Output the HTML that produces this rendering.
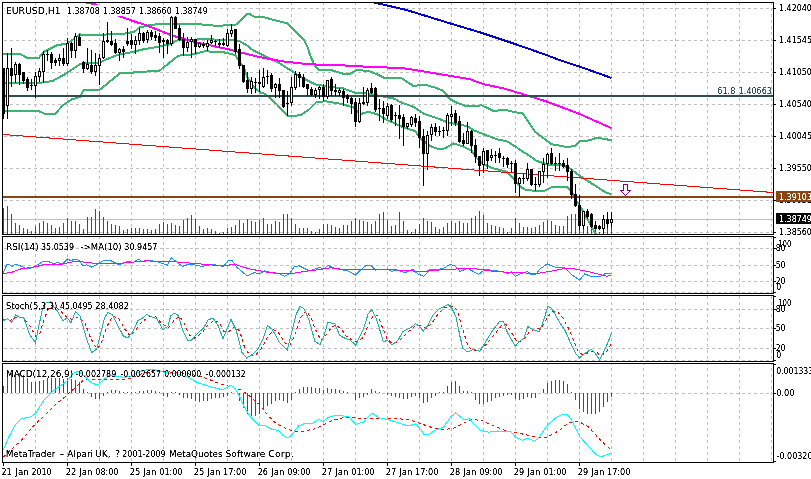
<!DOCTYPE html><html><head><meta charset="utf-8"><title>EURUSD,H1</title><style>html,body{margin:0;padding:0;background:#fff;overflow:hidden}svg{display:block}text{white-space:pre}</style></head><body><svg width="811" height="479" viewBox="0 0 811 479" shape-rendering="crispEdges" font-family="DejaVu Sans Condensed, Liberation Sans, sans-serif" font-size="9.5">
<rect x="0" y="0" width="811" height="479" fill="#fff"/>
<defs>
<clipPath id="cm"><rect x="3" y="3" width="770" height="231"/></clipPath>
<clipPath id="cr"><rect x="3" y="237" width="770" height="56"/></clipPath>
<clipPath id="cs"><rect x="3" y="296" width="770" height="65"/></clipPath>
<clipPath id="cd"><rect x="3" y="364" width="770" height="98"/></clipPath>
<filter id="tx" x="0" y="0" width="811" height="479" filterUnits="userSpaceOnUse" color-interpolation-filters="sRGB"><feComponentTransfer><feFuncA type="table" tableValues="0 0 0.75 1 1"/></feComponentTransfer></filter>
</defs>
<g clip-path="url(#cm)">
<line x1="4" y1="8.5" x2="773" y2="8.5" stroke="#c0c0c0" stroke-width="1" stroke-dasharray="3,3"/>
<line x1="4" y1="40.5" x2="773" y2="40.5" stroke="#c0c0c0" stroke-width="1" stroke-dasharray="3,3"/>
<line x1="4" y1="72.5" x2="773" y2="72.5" stroke="#c0c0c0" stroke-width="1" stroke-dasharray="3,3"/>
<line x1="4" y1="104.5" x2="773" y2="104.5" stroke="#c0c0c0" stroke-width="1" stroke-dasharray="3,3"/>
<line x1="4" y1="136.5" x2="773" y2="136.5" stroke="#c0c0c0" stroke-width="1" stroke-dasharray="3,3"/>
<line x1="4" y1="168.5" x2="773" y2="168.5" stroke="#c0c0c0" stroke-width="1" stroke-dasharray="3,3"/>
<line x1="4" y1="200.5" x2="773" y2="200.5" stroke="#c0c0c0" stroke-width="1" stroke-dasharray="3,3"/>
<line x1="4" y1="232.5" x2="773" y2="232.5" stroke="#c0c0c0" stroke-width="1" stroke-dasharray="3,3"/>
<line x1="35.5" y1="2" x2="35.5" y2="234" stroke="#c0c0c0" stroke-width="1" stroke-dasharray="3,3"/>
<line x1="67.5" y1="2" x2="67.5" y2="234" stroke="#c0c0c0" stroke-width="1" stroke-dasharray="3,3"/>
<line x1="99.5" y1="2" x2="99.5" y2="234" stroke="#c0c0c0" stroke-width="1" stroke-dasharray="3,3"/>
<line x1="131.5" y1="2" x2="131.5" y2="234" stroke="#c0c0c0" stroke-width="1" stroke-dasharray="3,3"/>
<line x1="163.5" y1="2" x2="163.5" y2="234" stroke="#c0c0c0" stroke-width="1" stroke-dasharray="3,3"/>
<line x1="195.5" y1="2" x2="195.5" y2="234" stroke="#c0c0c0" stroke-width="1" stroke-dasharray="3,3"/>
<line x1="227.5" y1="2" x2="227.5" y2="234" stroke="#c0c0c0" stroke-width="1" stroke-dasharray="3,3"/>
<line x1="259.5" y1="2" x2="259.5" y2="234" stroke="#c0c0c0" stroke-width="1" stroke-dasharray="3,3"/>
<line x1="291.5" y1="2" x2="291.5" y2="234" stroke="#c0c0c0" stroke-width="1" stroke-dasharray="3,3"/>
<line x1="323.5" y1="2" x2="323.5" y2="234" stroke="#c0c0c0" stroke-width="1" stroke-dasharray="3,3"/>
<line x1="355.5" y1="2" x2="355.5" y2="234" stroke="#c0c0c0" stroke-width="1" stroke-dasharray="3,3"/>
<line x1="387.5" y1="2" x2="387.5" y2="234" stroke="#c0c0c0" stroke-width="1" stroke-dasharray="3,3"/>
<line x1="419.5" y1="2" x2="419.5" y2="234" stroke="#c0c0c0" stroke-width="1" stroke-dasharray="3,3"/>
<line x1="451.5" y1="2" x2="451.5" y2="234" stroke="#c0c0c0" stroke-width="1" stroke-dasharray="3,3"/>
<line x1="483.5" y1="2" x2="483.5" y2="234" stroke="#c0c0c0" stroke-width="1" stroke-dasharray="3,3"/>
<line x1="515.5" y1="2" x2="515.5" y2="234" stroke="#c0c0c0" stroke-width="1" stroke-dasharray="3,3"/>
<line x1="547.5" y1="2" x2="547.5" y2="234" stroke="#c0c0c0" stroke-width="1" stroke-dasharray="3,3"/>
<line x1="579.5" y1="2" x2="579.5" y2="234" stroke="#c0c0c0" stroke-width="1" stroke-dasharray="3,3"/>
<line x1="611.5" y1="2" x2="611.5" y2="234" stroke="#c0c0c0" stroke-width="1" stroke-dasharray="3,3"/>
<line x1="643.5" y1="2" x2="643.5" y2="234" stroke="#c0c0c0" stroke-width="1" stroke-dasharray="3,3"/>
<line x1="675.5" y1="2" x2="675.5" y2="234" stroke="#c0c0c0" stroke-width="1" stroke-dasharray="3,3"/>
<line x1="707.5" y1="2" x2="707.5" y2="234" stroke="#c0c0c0" stroke-width="1" stroke-dasharray="3,3"/>
<line x1="739.5" y1="2" x2="739.5" y2="234" stroke="#c0c0c0" stroke-width="1" stroke-dasharray="3,3"/>
<line x1="771.5" y1="2" x2="771.5" y2="234" stroke="#c0c0c0" stroke-width="1" stroke-dasharray="3,3"/>
<rect x="3" y="219" width="770" height="1" fill="#c0c0c0"/>
<rect x="3" y="208" width="1" height="26" fill="#008000"/>
<rect x="7" y="206" width="1" height="28" fill="#008000"/>
<rect x="11" y="214" width="1" height="20" fill="#008000"/>
<rect x="15" y="223" width="1" height="11" fill="#008000"/>
<rect x="19" y="225" width="1" height="9" fill="#008000"/>
<rect x="23" y="228" width="1" height="6" fill="#008000"/>
<rect x="27" y="229" width="1" height="5" fill="#008000"/>
<rect x="31" y="231" width="1" height="3" fill="#008000"/>
<rect x="35" y="226" width="1" height="8" fill="#008000"/>
<rect x="39" y="223" width="1" height="11" fill="#008000"/>
<rect x="43" y="221" width="1" height="13" fill="#008000"/>
<rect x="47" y="223" width="1" height="11" fill="#008000"/>
<rect x="51" y="225" width="1" height="9" fill="#008000"/>
<rect x="55" y="228" width="1" height="6" fill="#008000"/>
<rect x="59" y="227" width="1" height="7" fill="#008000"/>
<rect x="63" y="223" width="1" height="11" fill="#008000"/>
<rect x="67" y="218" width="1" height="16" fill="#008000"/>
<rect x="71" y="221" width="1" height="13" fill="#008000"/>
<rect x="75" y="221" width="1" height="13" fill="#008000"/>
<rect x="79" y="224" width="1" height="10" fill="#008000"/>
<rect x="83" y="229" width="1" height="5" fill="#008000"/>
<rect x="87" y="217" width="1" height="17" fill="#008000"/>
<rect x="91" y="217" width="1" height="17" fill="#008000"/>
<rect x="95" y="209" width="1" height="25" fill="#008000"/>
<rect x="99" y="211" width="1" height="23" fill="#008000"/>
<rect x="103" y="217" width="1" height="17" fill="#008000"/>
<rect x="107" y="221" width="1" height="13" fill="#008000"/>
<rect x="111" y="224" width="1" height="10" fill="#008000"/>
<rect x="115" y="225" width="1" height="9" fill="#008000"/>
<rect x="119" y="226" width="1" height="8" fill="#008000"/>
<rect x="123" y="230" width="1" height="4" fill="#008000"/>
<rect x="127" y="229" width="1" height="5" fill="#008000"/>
<rect x="131" y="228" width="1" height="6" fill="#008000"/>
<rect x="135" y="228" width="1" height="6" fill="#008000"/>
<rect x="139" y="228" width="1" height="6" fill="#008000"/>
<rect x="143" y="229" width="1" height="5" fill="#008000"/>
<rect x="147" y="229" width="1" height="5" fill="#008000"/>
<rect x="151" y="230" width="1" height="4" fill="#008000"/>
<rect x="155" y="229" width="1" height="5" fill="#008000"/>
<rect x="159" y="224" width="1" height="10" fill="#008000"/>
<rect x="163" y="222" width="1" height="12" fill="#008000"/>
<rect x="167" y="224" width="1" height="10" fill="#008000"/>
<rect x="171" y="223" width="1" height="11" fill="#008000"/>
<rect x="175" y="225" width="1" height="9" fill="#008000"/>
<rect x="179" y="226" width="1" height="8" fill="#008000"/>
<rect x="183" y="220" width="1" height="14" fill="#008000"/>
<rect x="187" y="218" width="1" height="16" fill="#008000"/>
<rect x="191" y="215" width="1" height="19" fill="#008000"/>
<rect x="195" y="219" width="1" height="15" fill="#008000"/>
<rect x="199" y="226" width="1" height="8" fill="#008000"/>
<rect x="203" y="229" width="1" height="5" fill="#008000"/>
<rect x="207" y="228" width="1" height="6" fill="#008000"/>
<rect x="211" y="229" width="1" height="5" fill="#008000"/>
<rect x="215" y="231" width="1" height="3" fill="#008000"/>
<rect x="219" y="233" width="1" height="1" fill="#008000"/>
<rect x="223" y="232" width="1" height="2" fill="#008000"/>
<rect x="227" y="228" width="1" height="6" fill="#008000"/>
<rect x="231" y="227" width="1" height="7" fill="#008000"/>
<rect x="235" y="225" width="1" height="9" fill="#008000"/>
<rect x="239" y="220" width="1" height="14" fill="#008000"/>
<rect x="243" y="223" width="1" height="11" fill="#008000"/>
<rect x="247" y="219" width="1" height="15" fill="#008000"/>
<rect x="251" y="221" width="1" height="13" fill="#008000"/>
<rect x="255" y="222" width="1" height="12" fill="#008000"/>
<rect x="259" y="220" width="1" height="14" fill="#008000"/>
<rect x="263" y="218" width="1" height="16" fill="#008000"/>
<rect x="267" y="224" width="1" height="10" fill="#008000"/>
<rect x="271" y="224" width="1" height="10" fill="#008000"/>
<rect x="275" y="221" width="1" height="13" fill="#008000"/>
<rect x="279" y="222" width="1" height="12" fill="#008000"/>
<rect x="283" y="214" width="1" height="20" fill="#008000"/>
<rect x="287" y="214" width="1" height="20" fill="#008000"/>
<rect x="291" y="218" width="1" height="16" fill="#008000"/>
<rect x="295" y="224" width="1" height="10" fill="#008000"/>
<rect x="299" y="228" width="1" height="6" fill="#008000"/>
<rect x="303" y="228" width="1" height="6" fill="#008000"/>
<rect x="307" y="228" width="1" height="6" fill="#008000"/>
<rect x="311" y="231" width="1" height="3" fill="#008000"/>
<rect x="315" y="232" width="1" height="2" fill="#008000"/>
<rect x="319" y="229" width="1" height="5" fill="#008000"/>
<rect x="323" y="224" width="1" height="10" fill="#008000"/>
<rect x="327" y="224" width="1" height="10" fill="#008000"/>
<rect x="331" y="225" width="1" height="9" fill="#008000"/>
<rect x="335" y="227" width="1" height="7" fill="#008000"/>
<rect x="339" y="228" width="1" height="6" fill="#008000"/>
<rect x="343" y="225" width="1" height="9" fill="#008000"/>
<rect x="347" y="225" width="1" height="9" fill="#008000"/>
<rect x="351" y="221" width="1" height="13" fill="#008000"/>
<rect x="355" y="218" width="1" height="16" fill="#008000"/>
<rect x="359" y="220" width="1" height="14" fill="#008000"/>
<rect x="363" y="221" width="1" height="13" fill="#008000"/>
<rect x="367" y="222" width="1" height="12" fill="#008000"/>
<rect x="371" y="224" width="1" height="10" fill="#008000"/>
<rect x="375" y="221" width="1" height="13" fill="#008000"/>
<rect x="379" y="214" width="1" height="20" fill="#008000"/>
<rect x="383" y="212" width="1" height="22" fill="#008000"/>
<rect x="387" y="220" width="1" height="14" fill="#008000"/>
<rect x="391" y="226" width="1" height="8" fill="#008000"/>
<rect x="395" y="225" width="1" height="9" fill="#008000"/>
<rect x="399" y="212" width="1" height="22" fill="#008000"/>
<rect x="403" y="221" width="1" height="13" fill="#008000"/>
<rect x="407" y="230" width="1" height="4" fill="#008000"/>
<rect x="411" y="232" width="1" height="2" fill="#008000"/>
<rect x="415" y="229" width="1" height="5" fill="#008000"/>
<rect x="419" y="224" width="1" height="10" fill="#008000"/>
<rect x="423" y="218" width="1" height="16" fill="#008000"/>
<rect x="427" y="221" width="1" height="13" fill="#008000"/>
<rect x="431" y="222" width="1" height="12" fill="#008000"/>
<rect x="435" y="227" width="1" height="7" fill="#008000"/>
<rect x="439" y="229" width="1" height="5" fill="#008000"/>
<rect x="443" y="227" width="1" height="7" fill="#008000"/>
<rect x="447" y="223" width="1" height="11" fill="#008000"/>
<rect x="451" y="221" width="1" height="13" fill="#008000"/>
<rect x="455" y="223" width="1" height="11" fill="#008000"/>
<rect x="459" y="221" width="1" height="13" fill="#008000"/>
<rect x="463" y="223" width="1" height="11" fill="#008000"/>
<rect x="467" y="223" width="1" height="11" fill="#008000"/>
<rect x="471" y="218" width="1" height="16" fill="#008000"/>
<rect x="475" y="216" width="1" height="18" fill="#008000"/>
<rect x="479" y="211" width="1" height="23" fill="#008000"/>
<rect x="483" y="215" width="1" height="19" fill="#008000"/>
<rect x="487" y="223" width="1" height="11" fill="#008000"/>
<rect x="491" y="225" width="1" height="9" fill="#008000"/>
<rect x="495" y="226" width="1" height="8" fill="#008000"/>
<rect x="499" y="227" width="1" height="7" fill="#008000"/>
<rect x="503" y="228" width="1" height="6" fill="#008000"/>
<rect x="507" y="232" width="1" height="2" fill="#008000"/>
<rect x="511" y="228" width="1" height="6" fill="#008000"/>
<rect x="515" y="218" width="1" height="16" fill="#008000"/>
<rect x="519" y="223" width="1" height="11" fill="#008000"/>
<rect x="523" y="227" width="1" height="7" fill="#008000"/>
<rect x="527" y="227" width="1" height="7" fill="#008000"/>
<rect x="531" y="228" width="1" height="6" fill="#008000"/>
<rect x="535" y="227" width="1" height="7" fill="#008000"/>
<rect x="539" y="225" width="1" height="9" fill="#008000"/>
<rect x="543" y="222" width="1" height="12" fill="#008000"/>
<rect x="547" y="220" width="1" height="14" fill="#008000"/>
<rect x="551" y="221" width="1" height="13" fill="#008000"/>
<rect x="555" y="225" width="1" height="9" fill="#008000"/>
<rect x="559" y="226" width="1" height="8" fill="#008000"/>
<rect x="563" y="226" width="1" height="8" fill="#008000"/>
<rect x="567" y="216" width="1" height="18" fill="#008000"/>
<rect x="571" y="214" width="1" height="20" fill="#008000"/>
<rect x="575" y="214" width="1" height="20" fill="#008000"/>
<rect x="579" y="214" width="1" height="20" fill="#008000"/>
<rect x="583" y="215" width="1" height="19" fill="#008000"/>
<rect x="587" y="226" width="1" height="8" fill="#008000"/>
<rect x="591" y="222" width="1" height="12" fill="#008000"/>
<rect x="595" y="229" width="1" height="5" fill="#008000"/>
<rect x="599" y="232" width="1" height="2" fill="#008000"/>
<rect x="603" y="226" width="1" height="8" fill="#008000"/>
<rect x="607" y="227" width="1" height="7" fill="#008000"/>
<rect x="611" y="227" width="1" height="7" fill="#008000"/>
<polyline points="3.0,54.3 20.0,54.0 26.7,57.6 39.0,57.6 43.8,52.0 57.6,45.0 67.0,43.8 80.0,34.3 83.5,35.4 100.0,35.4 107.0,34.3 127.0,33.4 135.0,31.4 139.0,27.6 151.7,24.7 163.4,23.9 195.0,23.9 217.0,25.9 230.0,25.0 237.0,24.4 247.0,13.8 249.4,13.8 253.8,16.5 263.2,16.9 271.4,19.4 287.0,23.2 304.0,40.0 307.7,47.6 310.0,55.0 315.0,66.0 319.3,70.0 330.0,69.8 343.5,73.8 350.0,73.8 357.0,70.0 368.6,71.0 377.0,74.3 383.6,77.6 395.0,77.6 401.7,78.4 413.4,85.9 425.0,84.7 435.0,87.6 443.5,90.9 450.0,99.3 456.8,102.6 466.9,106.4 481.9,105.4 493.6,111.0 505.3,109.8 513.6,112.0 520.0,113.0 523.0,113.5 535.0,131.8 538.4,134.2 551.7,144.2 565.0,146.7 575.0,146.4 580.0,140.9 590.0,140.4 596.9,137.5 605.0,139.2 611.6,140.0" fill="none" stroke="#3cb371" stroke-width="2" />
<polyline points="3.0,82.5 16.7,83.4 40.0,83.4 44.0,81.7 51.8,81.4 67.0,73.0 80.0,64.2 83.5,63.0 100.0,62.7 105.0,60.0 117.0,55.0 130.0,52.6 143.4,49.3 158.4,46.8 170.0,44.3 178.5,39.8 210.0,39.3 223.6,40.0 238.8,40.7 246.3,45.0 252.6,50.0 262.6,55.0 272.6,60.0 276.7,61.5 291.7,71.0 303.4,78.5 315.0,84.3 330.0,86.8 343.5,88.5 355.0,92.7 367.0,93.2 380.0,96.0 395.0,98.8 400.0,102.0 413.4,106.8 423.4,113.5 440.0,119.3 450.0,123.2 460.0,124.3 468.5,126.7 473.5,130.2 483.6,134.2 497.0,139.2 507.0,141.4 517.0,147.6 520.0,150.0 528.4,155.0 536.7,160.9 548.4,164.8 561.8,165.0 570.0,168.4 580.0,176.0 591.8,183.5 606.9,193.2 611.6,193.8" fill="none" stroke="#3cb371" stroke-width="2" />
<polyline points="3.0,111.0 38.4,111.0 45.0,113.8 55.0,113.8 63.5,104.8 72.0,99.3 80.0,97.0 83.5,90.4 99.4,90.0 120.3,73.0 132.0,73.0 135.0,72.0 159.0,71.0 178.5,55.6 193.5,54.3 205.0,51.3 223.6,52.3 235.0,55.0 238.8,60.0 240.3,63.3 243.6,66.8 247.0,76.7 253.6,86.7 260.3,92.6 265.0,93.8 276.7,104.2 287.6,115.9 300.0,115.4 308.5,110.0 316.8,101.7 326.8,101.4 340.2,103.7 353.6,107.5 360.3,114.2 368.6,111.7 377.0,114.2 387.0,120.0 395.0,123.4 403.4,127.5 415.0,130.9 421.7,140.0 430.0,145.9 438.5,149.2 445.0,148.4 453.5,143.4 463.5,146.7 471.9,150.9 476.9,158.4 483.6,164.3 493.6,168.5 507.0,171.8 513.6,178.5 520.3,186.8 525.0,189.5 531.7,190.5 545.0,190.5 551.7,187.2 566.8,187.2 571.8,191.8 575.0,198.4 583.3,211.6 591.6,226.6 595.7,234.0" fill="none" stroke="#3cb371" stroke-width="2" />
<polyline points="86.0,2.4 96.0,4.4 119.2,16.2 135.0,21.7 146.7,25.4 171.8,35.4 196.8,42.6 216.9,46.8 230.0,49.6 237.0,51.5 257.0,56.5 265.0,58.2 285.0,61.7 310.0,64.3 343.5,65.4 368.6,66.8 395.0,67.8 403.4,68.2 423.4,71.4 443.5,74.7 470.0,79.2 483.6,84.2 503.6,88.4 525.0,94.8 545.0,101.0 578.5,113.5 611.6,128.2" fill="none" stroke="#ff00ff" stroke-width="2" />
<polyline points="355.0,-2.0 375.0,2.7 406.6,10.0 449.9,23.3 483.0,33.3 513.0,43.3 546.4,55.0 559.3,60.0 579.7,66.6 611.6,78.0" fill="none" stroke="#0000c8" stroke-width="2" />
<rect x="3" y="95" width="770" height="2" fill="#2f4f4f"/>
<line x1="3" y1="134.5" x2="773" y2="192.5" stroke="#ff0000" stroke-width="1"/>
<rect x="3" y="196" width="770" height="2" fill="#8b4513"/>
<rect x="3" y="68" width="1" height="51" fill="#000"/>
<rect x="2" y="68" width="3" height="46" fill="#000"/>
<rect x="7" y="53" width="1" height="66" fill="#000"/>
<rect x="6" y="68" width="3" height="38" fill="#000"/>
<rect x="7" y="69" width="1" height="36" fill="#fff"/>
<rect x="11" y="48" width="1" height="39" fill="#000"/>
<rect x="10" y="68" width="3" height="8" fill="#000"/>
<rect x="15" y="62" width="1" height="21" fill="#000"/>
<rect x="14" y="64" width="3" height="11" fill="#000"/>
<rect x="15" y="65" width="1" height="9" fill="#fff"/>
<rect x="19" y="63" width="1" height="22" fill="#000"/>
<rect x="18" y="64" width="3" height="11" fill="#000"/>
<rect x="23" y="72" width="1" height="12" fill="#000"/>
<rect x="22" y="72" width="3" height="9" fill="#000"/>
<rect x="27" y="77" width="1" height="14" fill="#000"/>
<rect x="26" y="79" width="3" height="9" fill="#000"/>
<rect x="31" y="79" width="1" height="11" fill="#000"/>
<rect x="30" y="85" width="3" height="1" fill="#000"/>
<rect x="35" y="72" width="1" height="26" fill="#000"/>
<rect x="34" y="76" width="3" height="10" fill="#000"/>
<rect x="35" y="77" width="1" height="8" fill="#fff"/>
<rect x="39" y="68" width="1" height="14" fill="#000"/>
<rect x="38" y="71" width="3" height="6" fill="#000"/>
<rect x="39" y="72" width="1" height="4" fill="#fff"/>
<rect x="43" y="51" width="1" height="32" fill="#000"/>
<rect x="42" y="54" width="3" height="18" fill="#000"/>
<rect x="43" y="55" width="1" height="16" fill="#fff"/>
<rect x="47" y="50" width="1" height="11" fill="#000"/>
<rect x="46" y="54" width="3" height="1" fill="#000"/>
<rect x="51" y="52" width="1" height="17" fill="#000"/>
<rect x="50" y="54" width="3" height="9" fill="#000"/>
<rect x="55" y="58" width="1" height="8" fill="#000"/>
<rect x="54" y="60" width="3" height="3" fill="#000"/>
<rect x="59" y="54" width="1" height="12" fill="#000"/>
<rect x="58" y="58" width="3" height="3" fill="#000"/>
<rect x="59" y="59" width="1" height="1" fill="#fff"/>
<rect x="63" y="48" width="1" height="18" fill="#000"/>
<rect x="62" y="58" width="3" height="6" fill="#000"/>
<rect x="67" y="38" width="1" height="28" fill="#000"/>
<rect x="66" y="43" width="3" height="21" fill="#000"/>
<rect x="67" y="44" width="1" height="19" fill="#fff"/>
<rect x="71" y="42" width="1" height="16" fill="#000"/>
<rect x="70" y="43" width="3" height="8" fill="#000"/>
<rect x="75" y="33" width="1" height="25" fill="#000"/>
<rect x="74" y="36" width="3" height="15" fill="#000"/>
<rect x="75" y="37" width="1" height="13" fill="#fff"/>
<rect x="79" y="34" width="1" height="12" fill="#000"/>
<rect x="78" y="37" width="3" height="9" fill="#000"/>
<rect x="83" y="61" width="1" height="12" fill="#000"/>
<rect x="82" y="62" width="3" height="7" fill="#000"/>
<rect x="87" y="48" width="1" height="22" fill="#000"/>
<rect x="86" y="64" width="3" height="5" fill="#000"/>
<rect x="87" y="65" width="1" height="3" fill="#fff"/>
<rect x="91" y="50" width="1" height="24" fill="#000"/>
<rect x="90" y="65" width="3" height="7" fill="#000"/>
<rect x="95" y="53" width="1" height="23" fill="#000"/>
<rect x="94" y="65" width="3" height="7" fill="#000"/>
<rect x="95" y="66" width="1" height="5" fill="#fff"/>
<rect x="99" y="54" width="1" height="31" fill="#000"/>
<rect x="98" y="58" width="3" height="8" fill="#000"/>
<rect x="99" y="59" width="1" height="6" fill="#fff"/>
<rect x="103" y="33" width="1" height="26" fill="#000"/>
<rect x="102" y="41" width="3" height="17" fill="#000"/>
<rect x="103" y="42" width="1" height="15" fill="#fff"/>
<rect x="107" y="22" width="1" height="21" fill="#000"/>
<rect x="106" y="40" width="3" height="2" fill="#000"/>
<rect x="111" y="31" width="1" height="15" fill="#000"/>
<rect x="110" y="41" width="3" height="4" fill="#000"/>
<rect x="115" y="39" width="1" height="15" fill="#000"/>
<rect x="114" y="43" width="3" height="10" fill="#000"/>
<rect x="119" y="48" width="1" height="13" fill="#000"/>
<rect x="118" y="49" width="3" height="4" fill="#000"/>
<rect x="119" y="50" width="1" height="2" fill="#fff"/>
<rect x="123" y="46" width="1" height="12" fill="#000"/>
<rect x="122" y="49" width="3" height="3" fill="#000"/>
<rect x="127" y="28" width="1" height="18" fill="#000"/>
<rect x="126" y="41" width="3" height="3" fill="#000"/>
<rect x="131" y="34" width="1" height="15" fill="#000"/>
<rect x="130" y="40" width="3" height="5" fill="#000"/>
<rect x="135" y="36" width="1" height="18" fill="#000"/>
<rect x="134" y="40" width="3" height="5" fill="#000"/>
<rect x="135" y="41" width="1" height="3" fill="#fff"/>
<rect x="139" y="28" width="1" height="17" fill="#000"/>
<rect x="138" y="33" width="3" height="8" fill="#000"/>
<rect x="139" y="34" width="1" height="6" fill="#fff"/>
<rect x="143" y="32" width="1" height="11" fill="#000"/>
<rect x="142" y="33" width="3" height="8" fill="#000"/>
<rect x="147" y="30" width="1" height="13" fill="#000"/>
<rect x="146" y="32" width="3" height="8" fill="#000"/>
<rect x="147" y="33" width="1" height="6" fill="#fff"/>
<rect x="151" y="30" width="1" height="10" fill="#000"/>
<rect x="150" y="32" width="3" height="5" fill="#000"/>
<rect x="155" y="31" width="1" height="10" fill="#000"/>
<rect x="154" y="35" width="3" height="3" fill="#000"/>
<rect x="159" y="33" width="1" height="20" fill="#000"/>
<rect x="158" y="36" width="3" height="7" fill="#000"/>
<rect x="163" y="38" width="1" height="20" fill="#000"/>
<rect x="162" y="40" width="3" height="2" fill="#000"/>
<rect x="167" y="39" width="1" height="15" fill="#000"/>
<rect x="166" y="40" width="3" height="4" fill="#000"/>
<rect x="171" y="16" width="1" height="30" fill="#000"/>
<rect x="170" y="17" width="3" height="27" fill="#000"/>
<rect x="171" y="18" width="1" height="25" fill="#fff"/>
<rect x="175" y="16" width="1" height="13" fill="#000"/>
<rect x="174" y="17" width="3" height="12" fill="#000"/>
<rect x="179" y="25" width="1" height="16" fill="#000"/>
<rect x="178" y="28" width="3" height="12" fill="#000"/>
<rect x="183" y="33" width="1" height="23" fill="#000"/>
<rect x="182" y="39" width="3" height="9" fill="#000"/>
<rect x="187" y="37" width="1" height="15" fill="#000"/>
<rect x="186" y="42" width="3" height="6" fill="#000"/>
<rect x="187" y="43" width="1" height="4" fill="#fff"/>
<rect x="191" y="37" width="1" height="21" fill="#000"/>
<rect x="190" y="39" width="3" height="3" fill="#000"/>
<rect x="191" y="40" width="1" height="1" fill="#fff"/>
<rect x="195" y="39" width="1" height="15" fill="#000"/>
<rect x="194" y="39" width="3" height="8" fill="#000"/>
<rect x="199" y="42" width="1" height="6" fill="#000"/>
<rect x="198" y="43" width="3" height="4" fill="#000"/>
<rect x="199" y="44" width="1" height="2" fill="#fff"/>
<rect x="203" y="42" width="1" height="6" fill="#000"/>
<rect x="202" y="44" width="3" height="2" fill="#000"/>
<rect x="207" y="40" width="1" height="11" fill="#000"/>
<rect x="206" y="43" width="3" height="4" fill="#000"/>
<rect x="207" y="44" width="1" height="2" fill="#fff"/>
<rect x="211" y="35" width="1" height="9" fill="#000"/>
<rect x="210" y="40" width="3" height="3" fill="#000"/>
<rect x="211" y="41" width="1" height="1" fill="#fff"/>
<rect x="215" y="40" width="1" height="6" fill="#000"/>
<rect x="214" y="41" width="3" height="1" fill="#000"/>
<rect x="219" y="39" width="1" height="9" fill="#000"/>
<rect x="218" y="43" width="3" height="2" fill="#000"/>
<rect x="223" y="38" width="1" height="8" fill="#000"/>
<rect x="222" y="43" width="3" height="2" fill="#000"/>
<rect x="227" y="29" width="1" height="18" fill="#000"/>
<rect x="226" y="33" width="3" height="13" fill="#000"/>
<rect x="227" y="34" width="1" height="11" fill="#fff"/>
<rect x="231" y="24" width="1" height="13" fill="#000"/>
<rect x="230" y="30" width="3" height="4" fill="#000"/>
<rect x="231" y="31" width="1" height="2" fill="#fff"/>
<rect x="235" y="29" width="1" height="25" fill="#000"/>
<rect x="234" y="29" width="3" height="23" fill="#000"/>
<rect x="239" y="44" width="1" height="25" fill="#000"/>
<rect x="238" y="49" width="3" height="17" fill="#000"/>
<rect x="243" y="65" width="1" height="18" fill="#000"/>
<rect x="242" y="65" width="3" height="17" fill="#000"/>
<rect x="247" y="72" width="1" height="21" fill="#000"/>
<rect x="246" y="80" width="3" height="9" fill="#000"/>
<rect x="251" y="77" width="1" height="17" fill="#000"/>
<rect x="250" y="81" width="3" height="8" fill="#000"/>
<rect x="251" y="82" width="1" height="6" fill="#fff"/>
<rect x="255" y="78" width="1" height="15" fill="#000"/>
<rect x="254" y="82" width="3" height="1" fill="#000"/>
<rect x="259" y="70" width="1" height="22" fill="#000"/>
<rect x="258" y="82" width="3" height="2" fill="#000"/>
<rect x="263" y="68" width="1" height="20" fill="#000"/>
<rect x="262" y="77" width="3" height="10" fill="#000"/>
<rect x="263" y="78" width="1" height="8" fill="#fff"/>
<rect x="267" y="70" width="1" height="14" fill="#000"/>
<rect x="266" y="76" width="3" height="1" fill="#000"/>
<rect x="271" y="73" width="1" height="19" fill="#000"/>
<rect x="270" y="75" width="3" height="14" fill="#000"/>
<rect x="275" y="83" width="1" height="15" fill="#000"/>
<rect x="274" y="84" width="3" height="4" fill="#000"/>
<rect x="275" y="85" width="1" height="2" fill="#fff"/>
<rect x="279" y="78" width="1" height="20" fill="#000"/>
<rect x="278" y="84" width="3" height="7" fill="#000"/>
<rect x="283" y="90" width="1" height="18" fill="#000"/>
<rect x="282" y="90" width="3" height="17" fill="#000"/>
<rect x="287" y="91" width="1" height="25" fill="#000"/>
<rect x="286" y="103" width="3" height="1" fill="#000"/>
<rect x="291" y="77" width="1" height="29" fill="#000"/>
<rect x="290" y="87" width="3" height="16" fill="#000"/>
<rect x="291" y="88" width="1" height="14" fill="#fff"/>
<rect x="295" y="71" width="1" height="19" fill="#000"/>
<rect x="294" y="74" width="3" height="14" fill="#000"/>
<rect x="295" y="75" width="1" height="12" fill="#fff"/>
<rect x="299" y="72" width="1" height="15" fill="#000"/>
<rect x="298" y="74" width="3" height="4" fill="#000"/>
<rect x="303" y="74" width="1" height="14" fill="#000"/>
<rect x="302" y="77" width="3" height="10" fill="#000"/>
<rect x="307" y="84" width="1" height="12" fill="#000"/>
<rect x="306" y="84" width="3" height="5" fill="#000"/>
<rect x="311" y="87" width="1" height="9" fill="#000"/>
<rect x="310" y="89" width="3" height="6" fill="#000"/>
<rect x="315" y="88" width="1" height="10" fill="#000"/>
<rect x="314" y="90" width="3" height="5" fill="#000"/>
<rect x="315" y="91" width="1" height="3" fill="#fff"/>
<rect x="319" y="86" width="1" height="13" fill="#000"/>
<rect x="318" y="87" width="3" height="3" fill="#000"/>
<rect x="319" y="88" width="1" height="1" fill="#fff"/>
<rect x="323" y="84" width="1" height="17" fill="#000"/>
<rect x="322" y="87" width="3" height="10" fill="#000"/>
<rect x="327" y="80" width="1" height="19" fill="#000"/>
<rect x="326" y="80" width="3" height="17" fill="#000"/>
<rect x="327" y="81" width="1" height="15" fill="#fff"/>
<rect x="331" y="77" width="1" height="19" fill="#000"/>
<rect x="330" y="79" width="3" height="12" fill="#000"/>
<rect x="335" y="84" width="1" height="12" fill="#000"/>
<rect x="334" y="90" width="3" height="2" fill="#000"/>
<rect x="339" y="88" width="1" height="8" fill="#000"/>
<rect x="338" y="90" width="3" height="3" fill="#000"/>
<rect x="339" y="91" width="1" height="1" fill="#fff"/>
<rect x="343" y="89" width="1" height="17" fill="#000"/>
<rect x="342" y="91" width="3" height="7" fill="#000"/>
<rect x="347" y="94" width="1" height="9" fill="#000"/>
<rect x="346" y="95" width="3" height="4" fill="#000"/>
<rect x="351" y="97" width="1" height="17" fill="#000"/>
<rect x="350" y="98" width="3" height="6" fill="#000"/>
<rect x="355" y="98" width="1" height="29" fill="#000"/>
<rect x="354" y="102" width="3" height="20" fill="#000"/>
<rect x="359" y="98" width="1" height="25" fill="#000"/>
<rect x="358" y="103" width="3" height="19" fill="#000"/>
<rect x="359" y="104" width="1" height="17" fill="#fff"/>
<rect x="363" y="87" width="1" height="18" fill="#000"/>
<rect x="362" y="102" width="3" height="2" fill="#000"/>
<rect x="367" y="88" width="1" height="18" fill="#000"/>
<rect x="366" y="90" width="3" height="13" fill="#000"/>
<rect x="367" y="91" width="1" height="11" fill="#fff"/>
<rect x="371" y="83" width="1" height="11" fill="#000"/>
<rect x="370" y="88" width="3" height="5" fill="#000"/>
<rect x="375" y="87" width="1" height="25" fill="#000"/>
<rect x="374" y="88" width="3" height="22" fill="#000"/>
<rect x="379" y="99" width="1" height="22" fill="#000"/>
<rect x="378" y="108" width="3" height="1" fill="#000"/>
<rect x="383" y="101" width="1" height="22" fill="#000"/>
<rect x="382" y="108" width="3" height="6" fill="#000"/>
<rect x="387" y="103" width="1" height="16" fill="#000"/>
<rect x="386" y="106" width="3" height="10" fill="#000"/>
<rect x="387" y="107" width="1" height="8" fill="#fff"/>
<rect x="391" y="104" width="1" height="18" fill="#000"/>
<rect x="390" y="105" width="3" height="15" fill="#000"/>
<rect x="395" y="112" width="1" height="14" fill="#000"/>
<rect x="394" y="115" width="3" height="1" fill="#000"/>
<rect x="399" y="105" width="1" height="34" fill="#000"/>
<rect x="398" y="115" width="3" height="4" fill="#000"/>
<rect x="403" y="114" width="1" height="32" fill="#000"/>
<rect x="402" y="117" width="3" height="10" fill="#000"/>
<rect x="407" y="123" width="1" height="6" fill="#000"/>
<rect x="406" y="123" width="3" height="4" fill="#000"/>
<rect x="407" y="124" width="1" height="2" fill="#fff"/>
<rect x="411" y="116" width="1" height="11" fill="#000"/>
<rect x="410" y="117" width="3" height="8" fill="#000"/>
<rect x="411" y="118" width="1" height="6" fill="#fff"/>
<rect x="415" y="114" width="1" height="13" fill="#000"/>
<rect x="414" y="118" width="3" height="5" fill="#000"/>
<rect x="419" y="116" width="1" height="32" fill="#000"/>
<rect x="418" y="121" width="3" height="17" fill="#000"/>
<rect x="423" y="129" width="1" height="57" fill="#000"/>
<rect x="422" y="136" width="3" height="18" fill="#000"/>
<rect x="427" y="131" width="1" height="39" fill="#000"/>
<rect x="426" y="135" width="3" height="19" fill="#000"/>
<rect x="427" y="136" width="1" height="17" fill="#fff"/>
<rect x="431" y="124" width="1" height="17" fill="#000"/>
<rect x="430" y="127" width="3" height="8" fill="#000"/>
<rect x="431" y="128" width="1" height="6" fill="#fff"/>
<rect x="435" y="123" width="1" height="13" fill="#000"/>
<rect x="434" y="127" width="3" height="5" fill="#000"/>
<rect x="439" y="126" width="1" height="10" fill="#000"/>
<rect x="438" y="131" width="3" height="1" fill="#000"/>
<rect x="443" y="127" width="1" height="11" fill="#000"/>
<rect x="442" y="130" width="3" height="1" fill="#000"/>
<rect x="447" y="113" width="1" height="23" fill="#000"/>
<rect x="446" y="115" width="3" height="16" fill="#000"/>
<rect x="447" y="116" width="1" height="14" fill="#fff"/>
<rect x="451" y="106" width="1" height="20" fill="#000"/>
<rect x="450" y="114" width="3" height="3" fill="#000"/>
<rect x="451" y="115" width="1" height="1" fill="#fff"/>
<rect x="455" y="110" width="1" height="16" fill="#000"/>
<rect x="454" y="113" width="3" height="10" fill="#000"/>
<rect x="459" y="116" width="1" height="27" fill="#000"/>
<rect x="458" y="121" width="3" height="21" fill="#000"/>
<rect x="463" y="133" width="1" height="13" fill="#000"/>
<rect x="462" y="140" width="3" height="4" fill="#000"/>
<rect x="467" y="122" width="1" height="22" fill="#000"/>
<rect x="466" y="131" width="3" height="13" fill="#000"/>
<rect x="467" y="132" width="1" height="11" fill="#fff"/>
<rect x="471" y="130" width="1" height="23" fill="#000"/>
<rect x="470" y="131" width="3" height="15" fill="#000"/>
<rect x="475" y="139" width="1" height="24" fill="#000"/>
<rect x="474" y="145" width="3" height="12" fill="#000"/>
<rect x="479" y="156" width="1" height="20" fill="#000"/>
<rect x="478" y="156" width="3" height="10" fill="#000"/>
<rect x="483" y="148" width="1" height="25" fill="#000"/>
<rect x="482" y="151" width="3" height="14" fill="#000"/>
<rect x="483" y="152" width="1" height="12" fill="#fff"/>
<rect x="487" y="150" width="1" height="19" fill="#000"/>
<rect x="486" y="150" width="3" height="11" fill="#000"/>
<rect x="491" y="149" width="1" height="12" fill="#000"/>
<rect x="490" y="155" width="3" height="3" fill="#000"/>
<rect x="491" y="156" width="1" height="1" fill="#fff"/>
<rect x="495" y="151" width="1" height="12" fill="#000"/>
<rect x="494" y="155" width="3" height="1" fill="#000"/>
<rect x="499" y="148" width="1" height="15" fill="#000"/>
<rect x="498" y="153" width="3" height="5" fill="#000"/>
<rect x="503" y="156" width="1" height="11" fill="#000"/>
<rect x="502" y="158" width="3" height="1" fill="#000"/>
<rect x="507" y="157" width="1" height="11" fill="#000"/>
<rect x="506" y="158" width="3" height="7" fill="#000"/>
<rect x="511" y="161" width="1" height="11" fill="#000"/>
<rect x="510" y="163" width="3" height="1" fill="#000"/>
<rect x="515" y="160" width="1" height="33" fill="#000"/>
<rect x="514" y="163" width="3" height="21" fill="#000"/>
<rect x="519" y="177" width="1" height="20" fill="#000"/>
<rect x="518" y="178" width="3" height="6" fill="#000"/>
<rect x="519" y="179" width="1" height="4" fill="#fff"/>
<rect x="523" y="174" width="1" height="10" fill="#000"/>
<rect x="522" y="178" width="3" height="1" fill="#000"/>
<rect x="527" y="163" width="1" height="18" fill="#000"/>
<rect x="526" y="169" width="3" height="10" fill="#000"/>
<rect x="527" y="170" width="1" height="8" fill="#fff"/>
<rect x="531" y="169" width="1" height="17" fill="#000"/>
<rect x="530" y="169" width="3" height="16" fill="#000"/>
<rect x="535" y="177" width="1" height="14" fill="#000"/>
<rect x="534" y="184" width="3" height="1" fill="#000"/>
<rect x="539" y="171" width="1" height="16" fill="#000"/>
<rect x="538" y="171" width="3" height="14" fill="#000"/>
<rect x="539" y="172" width="1" height="12" fill="#fff"/>
<rect x="543" y="158" width="1" height="25" fill="#000"/>
<rect x="542" y="164" width="3" height="8" fill="#000"/>
<rect x="543" y="165" width="1" height="6" fill="#fff"/>
<rect x="547" y="153" width="1" height="25" fill="#000"/>
<rect x="546" y="154" width="3" height="10" fill="#000"/>
<rect x="547" y="155" width="1" height="8" fill="#fff"/>
<rect x="551" y="148" width="1" height="17" fill="#000"/>
<rect x="550" y="153" width="3" height="11" fill="#000"/>
<rect x="555" y="157" width="1" height="14" fill="#000"/>
<rect x="554" y="163" width="3" height="1" fill="#000"/>
<rect x="559" y="153" width="1" height="18" fill="#000"/>
<rect x="558" y="163" width="3" height="1" fill="#000"/>
<rect x="563" y="160" width="1" height="8" fill="#000"/>
<rect x="562" y="163" width="3" height="4" fill="#000"/>
<rect x="567" y="158" width="1" height="23" fill="#000"/>
<rect x="566" y="165" width="3" height="7" fill="#000"/>
<rect x="571" y="169" width="1" height="30" fill="#000"/>
<rect x="570" y="171" width="3" height="24" fill="#000"/>
<rect x="575" y="184" width="1" height="23" fill="#000"/>
<rect x="574" y="194" width="3" height="12" fill="#000"/>
<rect x="579" y="195" width="1" height="35" fill="#000"/>
<rect x="578" y="205" width="3" height="21" fill="#000"/>
<rect x="583" y="211" width="1" height="18" fill="#000"/>
<rect x="582" y="211" width="3" height="15" fill="#000"/>
<rect x="583" y="212" width="1" height="13" fill="#fff"/>
<rect x="587" y="209" width="1" height="10" fill="#000"/>
<rect x="586" y="211" width="3" height="6" fill="#000"/>
<rect x="591" y="213" width="1" height="15" fill="#000"/>
<rect x="590" y="214" width="3" height="13" fill="#000"/>
<rect x="595" y="221" width="1" height="8" fill="#000"/>
<rect x="594" y="225" width="3" height="4" fill="#000"/>
<rect x="599" y="225" width="1" height="5" fill="#000"/>
<rect x="598" y="226" width="3" height="3" fill="#000"/>
<rect x="603" y="215" width="1" height="20" fill="#000"/>
<rect x="602" y="219" width="3" height="10" fill="#000"/>
<rect x="603" y="220" width="1" height="8" fill="#fff"/>
<rect x="607" y="212" width="1" height="16" fill="#000"/>
<rect x="606" y="219" width="3" height="5" fill="#000"/>
<rect x="611" y="212" width="1" height="15" fill="#000"/>
<rect x="610" y="219" width="3" height="4" fill="#000"/>
<rect x="611" y="220" width="1" height="2" fill="#fff"/>
<path d="M623.5 184.5H627.5V190.5H630.5L625.5 195.5L620.5 190.5H623.5Z" fill="none" stroke="#800080" stroke-width="1"/>
</g>
<rect x="5" y="5" width="205" height="11" fill="#fff"/>
<text y="14" fill="#000" filter="url(#tx)" xml:space="preserve"><tspan x="5.95" textLength="54.85" lengthAdjust="spacingAndGlyphs">EURUSD,H1</tspan> <tspan x="66.97" textLength="32.88" lengthAdjust="spacingAndGlyphs">1.38708</tspan> <tspan x="102.87" textLength="33.01" lengthAdjust="spacingAndGlyphs">1.38857</tspan> <tspan x="138.87" textLength="32.88" lengthAdjust="spacingAndGlyphs">1.38660</tspan> <tspan x="174.87" textLength="32.88" lengthAdjust="spacingAndGlyphs">1.38749</tspan></text>
<text y="94" fill="#2f4f4f" filter="url(#tx)" xml:space="preserve"><tspan x="717.20" textLength="18.21" lengthAdjust="spacingAndGlyphs">61.8</tspan> <tspan x="738.76" textLength="33.11" lengthAdjust="spacingAndGlyphs">1.40663</tspan></text>
<g clip-path="url(#cr)">
<line x1="4" y1="248.5" x2="773" y2="248.5" stroke="#c0c0c0" stroke-width="1" stroke-dasharray="3,3"/>
<line x1="4" y1="265.5" x2="773" y2="265.5" stroke="#c0c0c0" stroke-width="1" stroke-dasharray="3,3"/>
<line x1="4" y1="281.5" x2="773" y2="281.5" stroke="#c0c0c0" stroke-width="1" stroke-dasharray="3,3"/>
<line x1="4" y1="292.5" x2="773" y2="292.5" stroke="#c0c0c0" stroke-width="1" stroke-dasharray="3,3"/>
<line x1="35.5" y1="236" x2="35.5" y2="293" stroke="#c0c0c0" stroke-width="1" stroke-dasharray="3,3"/>
<line x1="67.5" y1="236" x2="67.5" y2="293" stroke="#c0c0c0" stroke-width="1" stroke-dasharray="3,3"/>
<line x1="99.5" y1="236" x2="99.5" y2="293" stroke="#c0c0c0" stroke-width="1" stroke-dasharray="3,3"/>
<line x1="131.5" y1="236" x2="131.5" y2="293" stroke="#c0c0c0" stroke-width="1" stroke-dasharray="3,3"/>
<line x1="163.5" y1="236" x2="163.5" y2="293" stroke="#c0c0c0" stroke-width="1" stroke-dasharray="3,3"/>
<line x1="195.5" y1="236" x2="195.5" y2="293" stroke="#c0c0c0" stroke-width="1" stroke-dasharray="3,3"/>
<line x1="227.5" y1="236" x2="227.5" y2="293" stroke="#c0c0c0" stroke-width="1" stroke-dasharray="3,3"/>
<line x1="259.5" y1="236" x2="259.5" y2="293" stroke="#c0c0c0" stroke-width="1" stroke-dasharray="3,3"/>
<line x1="291.5" y1="236" x2="291.5" y2="293" stroke="#c0c0c0" stroke-width="1" stroke-dasharray="3,3"/>
<line x1="323.5" y1="236" x2="323.5" y2="293" stroke="#c0c0c0" stroke-width="1" stroke-dasharray="3,3"/>
<line x1="355.5" y1="236" x2="355.5" y2="293" stroke="#c0c0c0" stroke-width="1" stroke-dasharray="3,3"/>
<line x1="387.5" y1="236" x2="387.5" y2="293" stroke="#c0c0c0" stroke-width="1" stroke-dasharray="3,3"/>
<line x1="419.5" y1="236" x2="419.5" y2="293" stroke="#c0c0c0" stroke-width="1" stroke-dasharray="3,3"/>
<line x1="451.5" y1="236" x2="451.5" y2="293" stroke="#c0c0c0" stroke-width="1" stroke-dasharray="3,3"/>
<line x1="483.5" y1="236" x2="483.5" y2="293" stroke="#c0c0c0" stroke-width="1" stroke-dasharray="3,3"/>
<line x1="515.5" y1="236" x2="515.5" y2="293" stroke="#c0c0c0" stroke-width="1" stroke-dasharray="3,3"/>
<line x1="547.5" y1="236" x2="547.5" y2="293" stroke="#c0c0c0" stroke-width="1" stroke-dasharray="3,3"/>
<line x1="579.5" y1="236" x2="579.5" y2="293" stroke="#c0c0c0" stroke-width="1" stroke-dasharray="3,3"/>
<line x1="611.5" y1="236" x2="611.5" y2="293" stroke="#c0c0c0" stroke-width="1" stroke-dasharray="3,3"/>
<line x1="643.5" y1="236" x2="643.5" y2="293" stroke="#c0c0c0" stroke-width="1" stroke-dasharray="3,3"/>
<line x1="675.5" y1="236" x2="675.5" y2="293" stroke="#c0c0c0" stroke-width="1" stroke-dasharray="3,3"/>
<line x1="707.5" y1="236" x2="707.5" y2="293" stroke="#c0c0c0" stroke-width="1" stroke-dasharray="3,3"/>
<line x1="739.5" y1="236" x2="739.5" y2="293" stroke="#c0c0c0" stroke-width="1" stroke-dasharray="3,3"/>
<line x1="771.5" y1="236" x2="771.5" y2="293" stroke="#c0c0c0" stroke-width="1" stroke-dasharray="3,3"/>
<polyline points="3.3,273.0 6.7,264.8 9.0,264.3 11.7,266.5 15.8,264.0 21.6,266.5 25.0,268.0 30.8,268.0 35.0,266.0 43.3,261.5 48.3,261.5 53.3,263.6 57.4,262.6 62.4,264.0 67.4,259.0 70.7,260.6 75.7,259.0 79.0,260.6 83.2,266.0 86.6,264.8 91.6,267.0 97.4,264.3 104.0,260.3 109.9,260.3 114.9,262.6 119.0,264.8 124.0,263.0 128.2,261.0 133.0,262.5 138.7,259.0 142.5,261.9 148.7,260.2 157.4,261.9 167.4,265.0 171.0,257.7 176.0,261.4 182.3,266.4 189.8,263.9 202.2,266.4 212.2,264.4 223.4,266.4 228.4,260.2 232.0,260.2 237.0,267.6 247.0,275.8 254.5,272.6 259.5,273.9 264.5,270.9 274.5,273.4 279.5,273.4 284.4,276.3 289.4,273.9 294.4,266.4 299.4,265.9 309.3,270.9 319.3,267.6 324.3,268.9 328.0,265.1 331.0,266.8 335.5,268.4 348.0,270.9 355.4,275.1 360.4,270.1 366.6,265.1 371.6,265.9 375.3,270.1 387.8,268.9 391.5,271.4 397.7,270.1 405.2,272.6 412.7,269.4 417.7,273.9 423.9,276.3 430.0,269.4 442.6,268.9 450.0,264.4 455.0,265.9 460.0,271.4 467.5,268.4 478.7,274.3 485.0,269.4 497.4,270.9 503.0,272.0 507.5,273.4 511.2,271.9 515.4,276.3 520.0,273.9 527.4,271.4 531.0,274.3 536.0,274.3 539.9,268.9 547.3,263.9 553.5,266.9 564.8,267.6 572.2,275.1 579.7,280.1 584.7,273.9 592.0,276.8 599.6,276.8 604.6,273.9 610.8,273.4" fill="none" stroke="#1e90ff" stroke-width="1" />
<polyline points="3.3,273.5 11.7,272.3 21.6,268.6 33.3,267.3 43.3,264.8 55.0,264.8 63.3,264.0 71.6,262.0 80.0,261.5 86.6,262.6 100.0,263.6 116.5,263.6 130.0,262.4 145.0,260.9 170.0,261.4 200.0,263.9 222.0,265.9 234.6,264.4 249.5,268.9 269.5,272.6 289.4,273.9 304.3,271.4 319.3,269.6 330.0,267.8 343.0,269.4 360.4,269.6 387.8,269.4 410.2,270.9 422.6,271.4 437.6,270.1 457.5,268.9 472.5,268.4 489.9,270.9 507.3,272.3 515.0,272.6 537.4,273.4 549.8,271.4 564.8,268.4 572.2,268.4 584.7,270.9 599.6,274.3 607.0,276.3 610.8,275.1" fill="none" stroke="#ff00ff" stroke-width="1" />
</g>
<text y="250" fill="#000" filter="url(#tx)" xml:space="preserve"><tspan x="6.09" textLength="32.62" lengthAdjust="spacingAndGlyphs">RSI(14)</tspan> <tspan x="40.91" textLength="33.14" lengthAdjust="spacingAndGlyphs">35.0539</tspan> <tspan x="80.52" textLength="41.14" lengthAdjust="spacingAndGlyphs">-&gt;MA(10)</tspan> <tspan x="124.31" textLength="33.16" lengthAdjust="spacingAndGlyphs">30.9457</tspan></text>
<g clip-path="url(#cs)">
<line x1="4" y1="309.5" x2="773" y2="309.5" stroke="#c0c0c0" stroke-width="1" stroke-dasharray="3,3"/>
<line x1="4" y1="328.5" x2="773" y2="328.5" stroke="#c0c0c0" stroke-width="1" stroke-dasharray="3,3"/>
<line x1="4" y1="348.5" x2="773" y2="348.5" stroke="#c0c0c0" stroke-width="1" stroke-dasharray="3,3"/>
<line x1="4" y1="360.5" x2="773" y2="360.5" stroke="#c0c0c0" stroke-width="1" stroke-dasharray="3,3"/>
<line x1="35.5" y1="296" x2="35.5" y2="361" stroke="#c0c0c0" stroke-width="1" stroke-dasharray="3,3"/>
<line x1="67.5" y1="296" x2="67.5" y2="361" stroke="#c0c0c0" stroke-width="1" stroke-dasharray="3,3"/>
<line x1="99.5" y1="296" x2="99.5" y2="361" stroke="#c0c0c0" stroke-width="1" stroke-dasharray="3,3"/>
<line x1="131.5" y1="296" x2="131.5" y2="361" stroke="#c0c0c0" stroke-width="1" stroke-dasharray="3,3"/>
<line x1="163.5" y1="296" x2="163.5" y2="361" stroke="#c0c0c0" stroke-width="1" stroke-dasharray="3,3"/>
<line x1="195.5" y1="296" x2="195.5" y2="361" stroke="#c0c0c0" stroke-width="1" stroke-dasharray="3,3"/>
<line x1="227.5" y1="296" x2="227.5" y2="361" stroke="#c0c0c0" stroke-width="1" stroke-dasharray="3,3"/>
<line x1="259.5" y1="296" x2="259.5" y2="361" stroke="#c0c0c0" stroke-width="1" stroke-dasharray="3,3"/>
<line x1="291.5" y1="296" x2="291.5" y2="361" stroke="#c0c0c0" stroke-width="1" stroke-dasharray="3,3"/>
<line x1="323.5" y1="296" x2="323.5" y2="361" stroke="#c0c0c0" stroke-width="1" stroke-dasharray="3,3"/>
<line x1="355.5" y1="296" x2="355.5" y2="361" stroke="#c0c0c0" stroke-width="1" stroke-dasharray="3,3"/>
<line x1="387.5" y1="296" x2="387.5" y2="361" stroke="#c0c0c0" stroke-width="1" stroke-dasharray="3,3"/>
<line x1="419.5" y1="296" x2="419.5" y2="361" stroke="#c0c0c0" stroke-width="1" stroke-dasharray="3,3"/>
<line x1="451.5" y1="296" x2="451.5" y2="361" stroke="#c0c0c0" stroke-width="1" stroke-dasharray="3,3"/>
<line x1="483.5" y1="296" x2="483.5" y2="361" stroke="#c0c0c0" stroke-width="1" stroke-dasharray="3,3"/>
<line x1="515.5" y1="296" x2="515.5" y2="361" stroke="#c0c0c0" stroke-width="1" stroke-dasharray="3,3"/>
<line x1="547.5" y1="296" x2="547.5" y2="361" stroke="#c0c0c0" stroke-width="1" stroke-dasharray="3,3"/>
<line x1="579.5" y1="296" x2="579.5" y2="361" stroke="#c0c0c0" stroke-width="1" stroke-dasharray="3,3"/>
<line x1="611.5" y1="296" x2="611.5" y2="361" stroke="#c0c0c0" stroke-width="1" stroke-dasharray="3,3"/>
<line x1="643.5" y1="296" x2="643.5" y2="361" stroke="#c0c0c0" stroke-width="1" stroke-dasharray="3,3"/>
<line x1="675.5" y1="296" x2="675.5" y2="361" stroke="#c0c0c0" stroke-width="1" stroke-dasharray="3,3"/>
<line x1="707.5" y1="296" x2="707.5" y2="361" stroke="#c0c0c0" stroke-width="1" stroke-dasharray="3,3"/>
<line x1="739.5" y1="296" x2="739.5" y2="361" stroke="#c0c0c0" stroke-width="1" stroke-dasharray="3,3"/>
<line x1="771.5" y1="296" x2="771.5" y2="361" stroke="#c0c0c0" stroke-width="1" stroke-dasharray="3,3"/>
<polyline points="3.0,319.6 9.9,320.6 15.8,317.7 23.7,317.7 29.6,325.5 35.5,336.0 39.5,334.4 44.4,318.6 48.3,308.8 54.3,305.8 59.2,309.8 66.0,316.7 72.0,319.6 79.0,316.7 84.8,322.6 90.7,338.4 96.7,348.6 100.6,345.3 106.5,327.5 112.4,316.3 118.4,317.7 124.3,328.5 130.2,336.0 136.0,329.5 142.0,321.6 150.0,316.3 155.8,316.6 162.9,324.6 168.8,327.5 174.7,319.6 179.7,316.3 184.6,324.2 189.5,335.4 194.5,338.0 202.3,332.5 208.3,324.6 214.2,320.2 219.0,322.6 224.0,331.5 229.0,331.5 234.9,326.5 239.8,331.5 244.8,348.2 249.7,355.0 255.6,355.0 261.5,348.2 267.5,337.4 273.4,329.5 278.3,332.5 285.2,343.3 290.0,345.3 295.0,334.4 300.0,318.6 306.0,310.8 310.9,317.2 315.0,328.5 320.9,340.3 325.8,335.4 330.7,328.5 335.6,324.6 341.6,329.5 346.5,336.4 352.4,340.3 357.3,341.9 363.3,337.4 368.2,325.5 373.0,315.7 378.0,315.7 382.0,326.5 387.0,338.4 391.9,343.3 397.8,341.9 402.7,337.4 408.6,331.5 414.6,326.5 420.5,325.5 426.4,328.1 432.3,322.6 438.2,313.7 444.0,307.8 451.0,305.8 457.0,309.8 461.9,326.5 466.8,342.3 469.0,347.5 472.9,350.2 480.8,350.2 486.7,343.9 494.6,334.4 501.5,325.5 506.4,324.6 511.4,332.5 517.3,342.3 523.2,340.3 529.0,332.5 534.0,329.5 541.0,328.5 546.9,318.6 551.8,311.7 556.7,310.8 562.7,317.7 568.6,328.5 573.5,340.3 578.4,352.2 583.4,355.0 589.3,352.2 595.2,351.2 601.0,356.0 607.0,351.2 611.6,343.3" fill="none" stroke="#ff0000" stroke-width="1" stroke-dasharray="3,3"/>
<polyline points="3.0,320.6 7.9,318.6 11.4,322.6 15.8,314.7 19.7,317.7 23.7,317.7 29.6,334.4 35.5,342.7 42.4,308.8 46.4,302.5 50.3,301.9 57.2,310.8 63.1,321.0 67.0,317.7 71.0,322.6 75.4,311.7 79.9,315.7 86.8,339.4 91.7,352.6 96.7,349.2 104.6,317.7 108.0,312.3 112.4,314.7 118.4,326.5 123.3,336.0 127.8,338.0 132.2,332.5 138.0,320.6 142.0,318.6 147.0,314.3 152.0,317.0 156.8,318.6 162.9,329.5 167.8,326.5 170.8,315.7 174.7,313.0 178.7,315.7 182.6,330.5 187.6,340.0 191.5,340.0 199.4,331.5 203.3,328.5 208.3,319.6 213.2,318.3 218.0,325.5 223.0,338.8 231.0,319.6 236.0,329.5 241.8,352.2 246.7,358.0 252.7,354.2 257.6,349.2 262.5,340.3 267.5,325.5 272.4,329.5 279.3,342.3 287.2,349.8 291.0,335.4 296.0,314.7 300.0,306.4 304.0,308.8 308.9,319.6 314.9,341.3 319.9,344.7 323.8,336.4 327.8,322.6 334.7,323.6 339.6,335.4 344.5,338.0 350.4,340.3 355.8,345.3 359.3,337.4 363.3,329.5 368.2,313.7 371.6,309.8 376.0,317.7 380.0,330.5 383.4,341.9 387.0,340.3 391.9,344.7 397.8,340.7 402.7,331.5 406.7,329.5 412.6,326.5 415.5,323.6 419.5,326.5 423.4,330.9 428.4,324.6 433.3,314.7 439.2,308.8 444.0,306.8 448.0,304.4 452.0,308.4 456.0,316.7 460.0,336.4 462.9,348.2 466.8,351.8 469.0,351.6 473.9,349.2 479.8,351.2 484.7,343.3 492.6,330.5 499.5,321.6 503.5,321.6 507.4,332.5 515.3,346.3 519.3,341.3 523.8,338.4 527.7,326.5 533.0,329.5 539.0,332.0 542.9,322.6 547.9,306.4 551.8,308.4 559.7,322.6 565.6,331.5 571.5,345.3 575.5,353.2 579.4,358.0 585.3,353.2 591.3,349.2 595.2,353.2 599.5,359.7 604.0,351.2 608.0,342.3 611.6,332.5" fill="none" stroke="#20b2aa" stroke-width="1" />
</g>
<text y="309" fill="#000" filter="url(#tx)" xml:space="preserve"><tspan x="6.09" textLength="51.27" lengthAdjust="spacingAndGlyphs">Stoch(5,3,3)</tspan> <tspan x="59.95" textLength="32.61" lengthAdjust="spacingAndGlyphs">45.0495</tspan> <tspan x="95.30" textLength="33.70" lengthAdjust="spacingAndGlyphs">28.4082</tspan></text>
<g clip-path="url(#cd)">
<line x1="4" y1="393.5" x2="773" y2="393.5" stroke="#c0c0c0" stroke-width="1" stroke-dasharray="3,3"/>
<line x1="35.5" y1="362" x2="35.5" y2="462" stroke="#c0c0c0" stroke-width="1" stroke-dasharray="3,3"/>
<line x1="67.5" y1="362" x2="67.5" y2="462" stroke="#c0c0c0" stroke-width="1" stroke-dasharray="3,3"/>
<line x1="99.5" y1="362" x2="99.5" y2="462" stroke="#c0c0c0" stroke-width="1" stroke-dasharray="3,3"/>
<line x1="131.5" y1="362" x2="131.5" y2="462" stroke="#c0c0c0" stroke-width="1" stroke-dasharray="3,3"/>
<line x1="163.5" y1="362" x2="163.5" y2="462" stroke="#c0c0c0" stroke-width="1" stroke-dasharray="3,3"/>
<line x1="195.5" y1="362" x2="195.5" y2="462" stroke="#c0c0c0" stroke-width="1" stroke-dasharray="3,3"/>
<line x1="227.5" y1="362" x2="227.5" y2="462" stroke="#c0c0c0" stroke-width="1" stroke-dasharray="3,3"/>
<line x1="259.5" y1="362" x2="259.5" y2="462" stroke="#c0c0c0" stroke-width="1" stroke-dasharray="3,3"/>
<line x1="291.5" y1="362" x2="291.5" y2="462" stroke="#c0c0c0" stroke-width="1" stroke-dasharray="3,3"/>
<line x1="323.5" y1="362" x2="323.5" y2="462" stroke="#c0c0c0" stroke-width="1" stroke-dasharray="3,3"/>
<line x1="355.5" y1="362" x2="355.5" y2="462" stroke="#c0c0c0" stroke-width="1" stroke-dasharray="3,3"/>
<line x1="387.5" y1="362" x2="387.5" y2="462" stroke="#c0c0c0" stroke-width="1" stroke-dasharray="3,3"/>
<line x1="419.5" y1="362" x2="419.5" y2="462" stroke="#c0c0c0" stroke-width="1" stroke-dasharray="3,3"/>
<line x1="451.5" y1="362" x2="451.5" y2="462" stroke="#c0c0c0" stroke-width="1" stroke-dasharray="3,3"/>
<line x1="483.5" y1="362" x2="483.5" y2="462" stroke="#c0c0c0" stroke-width="1" stroke-dasharray="3,3"/>
<line x1="515.5" y1="362" x2="515.5" y2="462" stroke="#c0c0c0" stroke-width="1" stroke-dasharray="3,3"/>
<line x1="547.5" y1="362" x2="547.5" y2="462" stroke="#c0c0c0" stroke-width="1" stroke-dasharray="3,3"/>
<line x1="579.5" y1="362" x2="579.5" y2="462" stroke="#c0c0c0" stroke-width="1" stroke-dasharray="3,3"/>
<line x1="611.5" y1="362" x2="611.5" y2="462" stroke="#c0c0c0" stroke-width="1" stroke-dasharray="3,3"/>
<line x1="643.5" y1="362" x2="643.5" y2="462" stroke="#c0c0c0" stroke-width="1" stroke-dasharray="3,3"/>
<line x1="675.5" y1="362" x2="675.5" y2="462" stroke="#c0c0c0" stroke-width="1" stroke-dasharray="3,3"/>
<line x1="707.5" y1="362" x2="707.5" y2="462" stroke="#c0c0c0" stroke-width="1" stroke-dasharray="3,3"/>
<line x1="739.5" y1="362" x2="739.5" y2="462" stroke="#c0c0c0" stroke-width="1" stroke-dasharray="3,3"/>
<line x1="771.5" y1="362" x2="771.5" y2="462" stroke="#c0c0c0" stroke-width="1" stroke-dasharray="3,3"/>
<rect x="3" y="386" width="1" height="7" fill="#008000"/>
<rect x="7" y="377" width="1" height="16" fill="#008000"/>
<rect x="11" y="373" width="1" height="20" fill="#008000"/>
<rect x="15" y="372" width="1" height="21" fill="#008000"/>
<rect x="19" y="373" width="1" height="20" fill="#008000"/>
<rect x="23" y="375" width="1" height="18" fill="#008000"/>
<rect x="27" y="378" width="1" height="15" fill="#008000"/>
<rect x="31" y="382" width="1" height="11" fill="#008000"/>
<rect x="35" y="382" width="1" height="11" fill="#008000"/>
<rect x="39" y="381" width="1" height="12" fill="#008000"/>
<rect x="43" y="380" width="1" height="13" fill="#008000"/>
<rect x="47" y="378" width="1" height="15" fill="#008000"/>
<rect x="51" y="378" width="1" height="15" fill="#008000"/>
<rect x="55" y="378" width="1" height="15" fill="#008000"/>
<rect x="59" y="378" width="1" height="15" fill="#008000"/>
<rect x="63" y="379" width="1" height="14" fill="#008000"/>
<rect x="67" y="378" width="1" height="15" fill="#008000"/>
<rect x="71" y="379" width="1" height="14" fill="#008000"/>
<rect x="75" y="380" width="1" height="13" fill="#008000"/>
<rect x="79" y="382" width="1" height="11" fill="#008000"/>
<rect x="83" y="389" width="1" height="4" fill="#008000"/>
<rect x="87" y="392" width="1" height="1" fill="#008000"/>
<rect x="91" y="393" width="1" height="4" fill="#ff0000"/>
<rect x="95" y="393" width="1" height="6" fill="#ff0000"/>
<rect x="99" y="393" width="1" height="6" fill="#ff0000"/>
<rect x="103" y="393" width="1" height="3" fill="#ff0000"/>
<rect x="107" y="392" width="1" height="1" fill="#008000"/>
<rect x="111" y="390" width="1" height="3" fill="#008000"/>
<rect x="115" y="390" width="1" height="3" fill="#008000"/>
<rect x="119" y="391" width="1" height="2" fill="#008000"/>
<rect x="123" y="392" width="1" height="1" fill="#008000"/>
<rect x="127" y="392" width="1" height="1" fill="#008000"/>
<rect x="131" y="392" width="1" height="1" fill="#008000"/>
<rect x="135" y="392" width="1" height="1" fill="#008000"/>
<rect x="139" y="391" width="1" height="2" fill="#008000"/>
<rect x="143" y="391" width="1" height="2" fill="#008000"/>
<rect x="147" y="390" width="1" height="3" fill="#008000"/>
<rect x="151" y="390" width="1" height="3" fill="#008000"/>
<rect x="155" y="391" width="1" height="2" fill="#008000"/>
<rect x="159" y="392" width="1" height="1" fill="#008000"/>
<rect x="163" y="393" width="1" height="3" fill="#ff0000"/>
<rect x="167" y="393" width="1" height="4" fill="#ff0000"/>
<rect x="171" y="392" width="1" height="1" fill="#008000"/>
<rect x="175" y="392" width="1" height="1" fill="#008000"/>
<rect x="179" y="393" width="1" height="2" fill="#ff0000"/>
<rect x="183" y="393" width="1" height="5" fill="#ff0000"/>
<rect x="187" y="393" width="1" height="5" fill="#ff0000"/>
<rect x="191" y="393" width="1" height="6" fill="#ff0000"/>
<rect x="195" y="393" width="1" height="8" fill="#ff0000"/>
<rect x="199" y="393" width="1" height="9" fill="#ff0000"/>
<rect x="203" y="393" width="1" height="8" fill="#ff0000"/>
<rect x="207" y="393" width="1" height="8" fill="#ff0000"/>
<rect x="211" y="393" width="1" height="6" fill="#ff0000"/>
<rect x="215" y="393" width="1" height="5" fill="#ff0000"/>
<rect x="219" y="393" width="1" height="5" fill="#ff0000"/>
<rect x="223" y="393" width="1" height="4" fill="#ff0000"/>
<rect x="227" y="393" width="1" height="3" fill="#ff0000"/>
<rect x="231" y="392" width="1" height="1" fill="#008000"/>
<rect x="239" y="393" width="1" height="8" fill="#ff0000"/>
<rect x="243" y="393" width="1" height="15" fill="#ff0000"/>
<rect x="247" y="393" width="1" height="21" fill="#ff0000"/>
<rect x="251" y="393" width="1" height="23" fill="#ff0000"/>
<rect x="255" y="393" width="1" height="23" fill="#ff0000"/>
<rect x="259" y="393" width="1" height="21" fill="#ff0000"/>
<rect x="263" y="393" width="1" height="17" fill="#ff0000"/>
<rect x="267" y="393" width="1" height="13" fill="#ff0000"/>
<rect x="271" y="393" width="1" height="11" fill="#ff0000"/>
<rect x="275" y="393" width="1" height="8" fill="#ff0000"/>
<rect x="279" y="393" width="1" height="7" fill="#ff0000"/>
<rect x="283" y="393" width="1" height="8" fill="#ff0000"/>
<rect x="287" y="393" width="1" height="10" fill="#ff0000"/>
<rect x="291" y="393" width="1" height="7" fill="#ff0000"/>
<rect x="295" y="392" width="1" height="1" fill="#008000"/>
<rect x="299" y="389" width="1" height="4" fill="#008000"/>
<rect x="303" y="387" width="1" height="6" fill="#008000"/>
<rect x="307" y="387" width="1" height="6" fill="#008000"/>
<rect x="311" y="387" width="1" height="6" fill="#008000"/>
<rect x="315" y="388" width="1" height="5" fill="#008000"/>
<rect x="319" y="388" width="1" height="5" fill="#008000"/>
<rect x="323" y="390" width="1" height="3" fill="#008000"/>
<rect x="327" y="388" width="1" height="5" fill="#008000"/>
<rect x="331" y="389" width="1" height="4" fill="#008000"/>
<rect x="335" y="389" width="1" height="4" fill="#008000"/>
<rect x="339" y="390" width="1" height="3" fill="#008000"/>
<rect x="343" y="391" width="1" height="2" fill="#008000"/>
<rect x="347" y="392" width="1" height="1" fill="#008000"/>
<rect x="355" y="393" width="1" height="7" fill="#ff0000"/>
<rect x="359" y="393" width="1" height="5" fill="#ff0000"/>
<rect x="363" y="393" width="1" height="4" fill="#ff0000"/>
<rect x="367" y="393" width="1" height="2" fill="#ff0000"/>
<rect x="371" y="389" width="1" height="4" fill="#008000"/>
<rect x="375" y="391" width="1" height="2" fill="#008000"/>
<rect x="379" y="392" width="1" height="1" fill="#008000"/>
<rect x="387" y="393" width="1" height="2" fill="#ff0000"/>
<rect x="391" y="393" width="1" height="3" fill="#ff0000"/>
<rect x="395" y="393" width="1" height="4" fill="#ff0000"/>
<rect x="399" y="393" width="1" height="5" fill="#ff0000"/>
<rect x="403" y="393" width="1" height="6" fill="#ff0000"/>
<rect x="407" y="393" width="1" height="6" fill="#ff0000"/>
<rect x="411" y="393" width="1" height="4" fill="#ff0000"/>
<rect x="415" y="393" width="1" height="3" fill="#ff0000"/>
<rect x="419" y="393" width="1" height="5" fill="#ff0000"/>
<rect x="423" y="393" width="1" height="10" fill="#ff0000"/>
<rect x="427" y="393" width="1" height="9" fill="#ff0000"/>
<rect x="431" y="393" width="1" height="5" fill="#ff0000"/>
<rect x="435" y="393" width="1" height="3" fill="#ff0000"/>
<rect x="439" y="392" width="1" height="1" fill="#008000"/>
<rect x="443" y="392" width="1" height="1" fill="#008000"/>
<rect x="447" y="386" width="1" height="7" fill="#008000"/>
<rect x="451" y="382" width="1" height="11" fill="#008000"/>
<rect x="455" y="381" width="1" height="12" fill="#008000"/>
<rect x="459" y="386" width="1" height="7" fill="#008000"/>
<rect x="463" y="391" width="1" height="2" fill="#008000"/>
<rect x="467" y="391" width="1" height="2" fill="#008000"/>
<rect x="471" y="392" width="1" height="1" fill="#008000"/>
<rect x="475" y="393" width="1" height="7" fill="#ff0000"/>
<rect x="479" y="393" width="1" height="11" fill="#ff0000"/>
<rect x="483" y="393" width="1" height="11" fill="#ff0000"/>
<rect x="487" y="393" width="1" height="9" fill="#ff0000"/>
<rect x="491" y="393" width="1" height="8" fill="#ff0000"/>
<rect x="495" y="393" width="1" height="5" fill="#ff0000"/>
<rect x="499" y="393" width="1" height="4" fill="#ff0000"/>
<rect x="503" y="393" width="1" height="3" fill="#ff0000"/>
<rect x="507" y="393" width="1" height="2" fill="#ff0000"/>
<rect x="511" y="393" width="1" height="2" fill="#ff0000"/>
<rect x="515" y="393" width="1" height="6" fill="#ff0000"/>
<rect x="519" y="393" width="1" height="7" fill="#ff0000"/>
<rect x="523" y="393" width="1" height="6" fill="#ff0000"/>
<rect x="527" y="393" width="1" height="4" fill="#ff0000"/>
<rect x="531" y="393" width="1" height="5" fill="#ff0000"/>
<rect x="535" y="393" width="1" height="5" fill="#ff0000"/>
<rect x="543" y="389" width="1" height="4" fill="#008000"/>
<rect x="547" y="383" width="1" height="10" fill="#008000"/>
<rect x="551" y="381" width="1" height="12" fill="#008000"/>
<rect x="555" y="380" width="1" height="13" fill="#008000"/>
<rect x="559" y="380" width="1" height="13" fill="#008000"/>
<rect x="563" y="381" width="1" height="12" fill="#008000"/>
<rect x="567" y="384" width="1" height="9" fill="#008000"/>
<rect x="571" y="392" width="1" height="1" fill="#008000"/>
<rect x="575" y="393" width="1" height="7" fill="#ff0000"/>
<rect x="579" y="393" width="1" height="16" fill="#ff0000"/>
<rect x="583" y="393" width="1" height="19" fill="#ff0000"/>
<rect x="587" y="393" width="1" height="21" fill="#ff0000"/>
<rect x="591" y="393" width="1" height="21" fill="#ff0000"/>
<rect x="595" y="393" width="1" height="21" fill="#ff0000"/>
<rect x="599" y="393" width="1" height="19" fill="#ff0000"/>
<rect x="603" y="393" width="1" height="14" fill="#ff0000"/>
<rect x="607" y="393" width="1" height="9" fill="#ff0000"/>
<rect x="611" y="393" width="1" height="4" fill="#ff0000"/>
<polyline points="3.3,457.0 13.0,447.8 21.7,440.0 32.6,427.0 43.4,416.4 54.3,405.5 65.0,396.8 76.0,387.0 83.6,380.0 91.2,379.5 108.6,379.5 121.6,379.5 130.3,378.4 139.0,374.5 149.8,371.9 160.0,371.4 168.0,371.9 183.2,373.0 198.4,375.8 209.3,379.5 220.0,383.8 231.0,387.0 241.8,390.3 250.5,396.8 259.2,404.4 267.9,415.3 276.6,424.0 285.3,428.3 294.0,431.6 304.8,431.0 315.0,428.8 320.9,426.0 331.7,420.7 342.6,417.9 353.4,417.9 364.3,418.5 381.6,418.5 396.8,418.5 409.9,420.0 418.6,422.9 427.2,426.0 435.9,428.7 444.6,429.4 453.3,428.3 462.0,424.0 468.0,421.0 471.5,419.4 482.4,420.7 493.2,425.7 504.0,430.0 515.0,432.2 525.8,434.8 536.6,437.4 547.5,437.0 558.4,431.0 567.0,424.0 573.6,421.4 580.0,422.2 588.8,427.2 599.6,439.2 611.0,450.0" fill="none" stroke="#ff0000" stroke-width="1" stroke-dasharray="3,3"/>
<polyline points="3.3,450.0 8.7,437.0 15.2,425.0 21.7,418.5 30.4,417.0 35.8,413.0 43.4,401.0 51.0,392.5 58.6,387.0 67.3,381.0 73.8,373.0 78.2,371.4 84.7,376.2 91.2,382.7 97.7,385.3 103.0,380.0 108.6,375.8 117.2,376.2 123.8,377.3 130.3,376.2 139.0,371.9 147.6,369.7 155.0,370.0 163.7,372.3 176.7,374.0 187.6,377.3 198.4,383.0 211.4,387.0 222.3,389.7 231.0,385.3 235.3,388.8 239.7,396.8 244.0,406.6 250.5,417.0 259.2,425.7 265.7,426.0 272.2,429.4 278.8,430.5 283.0,435.3 287.9,438.0 291.8,434.8 298.3,426.0 304.8,423.5 311.3,424.0 318.7,419.6 323.0,421.4 329.5,416.4 338.2,415.3 349.0,417.0 355.6,424.4 363.2,422.2 371.9,413.0 379.5,417.9 386.0,419.2 396.8,422.2 407.7,426.0 415.3,424.0 419.6,428.3 424.0,434.4 428.3,434.4 435.9,430.0 443.5,427.2 451.0,416.4 455.5,413.0 464.0,419.6 469.3,418.8 480.2,430.5 488.9,432.2 497.6,431.0 510.6,431.6 516.0,437.4 522.5,440.2 528.0,438.0 534.5,441.3 540.0,436.0 547.5,425.0 556.2,417.4 562.7,414.2 567.0,414.2 571.4,419.6 580.0,437.0 589.8,447.8 595.3,454.0 600.7,457.0 611.0,453.3" fill="none" stroke="#00ffff" stroke-width="1" />
</g>
<text y="377" fill="#000" filter="url(#tx)" xml:space="preserve"><tspan x="6.10" textLength="67.10" lengthAdjust="spacingAndGlyphs">MACD(12,26,9)</tspan> <tspan x="75.35" textLength="40.92" lengthAdjust="spacingAndGlyphs">-0.002789</tspan> <tspan x="120.45" textLength="40.53" lengthAdjust="spacingAndGlyphs">-0.002657</tspan> <tspan x="164.34" textLength="36.84" lengthAdjust="spacingAndGlyphs">0.000000</tspan> <tspan x="205.86" textLength="39.82" lengthAdjust="spacingAndGlyphs">-0.000132</tspan></text>
<text y="457" fill="#000" filter="url(#tx)" xml:space="preserve"><tspan x="5.69" textLength="49.81" lengthAdjust="spacingAndGlyphs">MetaTrader</tspan> <tspan x="59.42" textLength="4.81" lengthAdjust="spacingAndGlyphs">-</tspan> <tspan x="67.37" textLength="25.74" lengthAdjust="spacingAndGlyphs">Alpari</tspan> <tspan x="95.09" textLength="15.70" lengthAdjust="spacingAndGlyphs">UK,</tspan> <tspan x="114.76" textLength="5.39" lengthAdjust="spacingAndGlyphs">?</tspan> <tspan x="122.32" textLength="43.22" lengthAdjust="spacingAndGlyphs">2001-2009</tspan> <tspan x="169.09" textLength="53.63" lengthAdjust="spacingAndGlyphs">MetaQuotes</tspan> <tspan x="225.64" textLength="39.81" lengthAdjust="spacingAndGlyphs">Software</tspan> <tspan x="268.34" textLength="25.56" lengthAdjust="spacingAndGlyphs">Corp.</tspan></text>
<rect x="2.5" y="2.5" width="771" height="232" fill="none" stroke="#000" stroke-width="1"/>
<rect x="2.5" y="236.5" width="771" height="57" fill="none" stroke="#000" stroke-width="1"/>
<rect x="2.5" y="295.5" width="771" height="66" fill="none" stroke="#000" stroke-width="1"/>
<rect x="2.5" y="363.5" width="771" height="99" fill="none" stroke="#000" stroke-width="1"/>
<rect x="774" y="8" width="2" height="1" fill="#000"/>
<text y="11" fill="#000" filter="url(#tx)" xml:space="preserve"><tspan x="778.97" textLength="32.99" lengthAdjust="spacingAndGlyphs">1.42040</tspan></text>
<rect x="774" y="40" width="2" height="1" fill="#000"/>
<text y="43" fill="#000" filter="url(#tx)" xml:space="preserve"><tspan x="778.96" textLength="33.11" lengthAdjust="spacingAndGlyphs">1.41545</tspan></text>
<rect x="774" y="72" width="2" height="1" fill="#000"/>
<text y="75" fill="#000" filter="url(#tx)" xml:space="preserve"><tspan x="778.97" textLength="32.99" lengthAdjust="spacingAndGlyphs">1.41050</tspan></text>
<rect x="774" y="104" width="2" height="1" fill="#000"/>
<text y="107" fill="#000" filter="url(#tx)" xml:space="preserve"><tspan x="778.97" textLength="32.99" lengthAdjust="spacingAndGlyphs">1.40540</tspan></text>
<rect x="774" y="136" width="2" height="1" fill="#000"/>
<text y="139" fill="#000" filter="url(#tx)" xml:space="preserve"><tspan x="778.96" textLength="33.11" lengthAdjust="spacingAndGlyphs">1.40045</tspan></text>
<rect x="774" y="168" width="2" height="1" fill="#000"/>
<text y="171" fill="#000" filter="url(#tx)" xml:space="preserve"><tspan x="778.97" textLength="32.99" lengthAdjust="spacingAndGlyphs">1.39550</tspan></text>
<rect x="774" y="200" width="2" height="1" fill="#000"/>
<text y="203" fill="#000" filter="url(#tx)" xml:space="preserve"><tspan x="778.96" textLength="33.11" lengthAdjust="spacingAndGlyphs">1.39055</tspan></text>
<rect x="774" y="232" width="2" height="1" fill="#000"/>
<text y="235" fill="#000" filter="url(#tx)" xml:space="preserve"><tspan x="778.97" textLength="32.99" lengthAdjust="spacingAndGlyphs">1.38560</tspan></text>
<rect x="776" y="191" width="35" height="11" fill="#8b4513"/>
<text y="200" fill="#fff" filter="url(#tx)" xml:space="preserve"><tspan x="778.96" textLength="33.11" lengthAdjust="spacingAndGlyphs">1.39103</tspan></text>
<rect x="776" y="213" width="35" height="11" fill="#000"/>
<text y="222" fill="#fff" filter="url(#tx)" xml:space="preserve"><tspan x="778.97" textLength="32.99" lengthAdjust="spacingAndGlyphs">1.38749</tspan></text>
<rect x="774" y="237" width="2" height="1" fill="#000"/>
<text y="247" fill="#000" filter="url(#tx)" xml:space="preserve"><tspan x="778.19" textLength="13.27" lengthAdjust="spacingAndGlyphs">100</tspan></text>
<rect x="774" y="248" width="2" height="1" fill="#000"/>
<text y="251" fill="#000" filter="url(#tx)" xml:space="preserve"><tspan x="775.63" textLength="9.94" lengthAdjust="spacingAndGlyphs">80</tspan></text>
<rect x="774" y="265" width="2" height="1" fill="#000"/>
<text y="268" fill="#000" filter="url(#tx)" xml:space="preserve"><tspan x="775.63" textLength="9.94" lengthAdjust="spacingAndGlyphs">50</tspan></text>
<rect x="774" y="281" width="2" height="1" fill="#000"/>
<text y="284" fill="#000" filter="url(#tx)" xml:space="preserve"><tspan x="775.63" textLength="9.94" lengthAdjust="spacingAndGlyphs">20</tspan></text>
<rect x="774" y="292" width="2" height="1" fill="#000"/>
<text y="290" fill="#000" filter="url(#tx)" xml:space="preserve"><tspan x="776.33" textLength="4.99" lengthAdjust="spacingAndGlyphs">0</tspan></text>
<rect x="774" y="296" width="2" height="1" fill="#000"/>
<text y="306" fill="#000" filter="url(#tx)" xml:space="preserve"><tspan x="778.19" textLength="13.27" lengthAdjust="spacingAndGlyphs">100</tspan></text>
<rect x="774" y="309" width="2" height="1" fill="#000"/>
<text y="312" fill="#000" filter="url(#tx)" xml:space="preserve"><tspan x="775.63" textLength="9.94" lengthAdjust="spacingAndGlyphs">80</tspan></text>
<rect x="774" y="328" width="2" height="1" fill="#000"/>
<text y="331" fill="#000" filter="url(#tx)" xml:space="preserve"><tspan x="775.63" textLength="9.94" lengthAdjust="spacingAndGlyphs">50</tspan></text>
<rect x="774" y="348" width="2" height="1" fill="#000"/>
<text y="351" fill="#000" filter="url(#tx)" xml:space="preserve"><tspan x="775.63" textLength="9.94" lengthAdjust="spacingAndGlyphs">20</tspan></text>
<rect x="774" y="360" width="2" height="1" fill="#000"/>
<text y="358" fill="#000" filter="url(#tx)" xml:space="preserve"><tspan x="776.33" textLength="4.99" lengthAdjust="spacingAndGlyphs">0</tspan></text>
<rect x="774" y="364" width="2" height="1" fill="#000"/>
<text y="374" fill="#000" filter="url(#tx)" xml:space="preserve"><tspan x="776.23" textLength="36.96" lengthAdjust="spacingAndGlyphs">0.001333</tspan></text>
<rect x="774" y="393" width="2" height="1" fill="#000"/>
<text y="396" fill="#000" filter="url(#tx)" xml:space="preserve"><tspan x="776.20" textLength="18.31" lengthAdjust="spacingAndGlyphs">0.00</tspan></text>
<rect x="774" y="461" width="2" height="1" fill="#000"/>
<text y="459" fill="#000" filter="url(#tx)" xml:space="preserve"><tspan x="776.55" textLength="35.96" lengthAdjust="spacingAndGlyphs">-0.00320</tspan></text>
<rect x="3" y="463" width="1" height="3" fill="#000"/>
<text y="475" fill="#000" filter="url(#tx)" xml:space="preserve"><tspan x="1.41" textLength="10.30" lengthAdjust="spacingAndGlyphs">21</tspan> <tspan x="15.38" textLength="13.32" lengthAdjust="spacingAndGlyphs">Jan</tspan> <tspan x="31.42" textLength="20.16" lengthAdjust="spacingAndGlyphs">2010</tspan></text>
<rect x="67" y="463" width="1" height="3" fill="#000"/>
<text y="475" fill="#000" filter="url(#tx)" xml:space="preserve"><tspan x="65.69" textLength="10.67" lengthAdjust="spacingAndGlyphs">22</tspan> <tspan x="79.28" textLength="13.32" lengthAdjust="spacingAndGlyphs">Jan</tspan> <tspan x="95.31" textLength="23.19" lengthAdjust="spacingAndGlyphs">08:00</tspan></text>
<rect x="131" y="463" width="1" height="3" fill="#000"/>
<text y="475" fill="#000" filter="url(#tx)" xml:space="preserve"><tspan x="129.69" textLength="10.53" lengthAdjust="spacingAndGlyphs">25</tspan> <tspan x="143.28" textLength="13.32" lengthAdjust="spacingAndGlyphs">Jan</tspan> <tspan x="159.31" textLength="23.19" lengthAdjust="spacingAndGlyphs">01:00</tspan></text>
<rect x="195" y="463" width="1" height="3" fill="#000"/>
<text y="475" fill="#000" filter="url(#tx)" xml:space="preserve"><tspan x="193.69" textLength="10.53" lengthAdjust="spacingAndGlyphs">25</tspan> <tspan x="207.28" textLength="13.32" lengthAdjust="spacingAndGlyphs">Jan</tspan> <tspan x="222.94" textLength="23.57" lengthAdjust="spacingAndGlyphs">17:00</tspan></text>
<rect x="259" y="463" width="1" height="3" fill="#000"/>
<text y="475" fill="#000" filter="url(#tx)" xml:space="preserve"><tspan x="257.71" textLength="10.26" lengthAdjust="spacingAndGlyphs">26</tspan> <tspan x="271.28" textLength="13.32" lengthAdjust="spacingAndGlyphs">Jan</tspan> <tspan x="287.31" textLength="23.19" lengthAdjust="spacingAndGlyphs">09:00</tspan></text>
<rect x="323" y="463" width="1" height="3" fill="#000"/>
<text y="475" fill="#000" filter="url(#tx)" xml:space="preserve"><tspan x="321.69" textLength="10.53" lengthAdjust="spacingAndGlyphs">27</tspan> <tspan x="335.28" textLength="13.32" lengthAdjust="spacingAndGlyphs">Jan</tspan> <tspan x="351.31" textLength="23.19" lengthAdjust="spacingAndGlyphs">01:00</tspan></text>
<rect x="387" y="463" width="1" height="3" fill="#000"/>
<text y="475" fill="#000" filter="url(#tx)" xml:space="preserve"><tspan x="385.69" textLength="10.53" lengthAdjust="spacingAndGlyphs">27</tspan> <tspan x="399.28" textLength="13.32" lengthAdjust="spacingAndGlyphs">Jan</tspan> <tspan x="414.94" textLength="23.57" lengthAdjust="spacingAndGlyphs">17:00</tspan></text>
<rect x="451" y="463" width="1" height="3" fill="#000"/>
<text y="475" fill="#000" filter="url(#tx)" xml:space="preserve"><tspan x="449.70" textLength="10.39" lengthAdjust="spacingAndGlyphs">28</tspan> <tspan x="463.28" textLength="13.32" lengthAdjust="spacingAndGlyphs">Jan</tspan> <tspan x="479.31" textLength="23.19" lengthAdjust="spacingAndGlyphs">09:00</tspan></text>
<rect x="515" y="463" width="1" height="3" fill="#000"/>
<text y="475" fill="#000" filter="url(#tx)" xml:space="preserve"><tspan x="513.70" textLength="10.39" lengthAdjust="spacingAndGlyphs">29</tspan> <tspan x="527.28" textLength="13.32" lengthAdjust="spacingAndGlyphs">Jan</tspan> <tspan x="543.31" textLength="23.19" lengthAdjust="spacingAndGlyphs">01:00</tspan></text>
<rect x="579" y="463" width="1" height="3" fill="#000"/>
<text y="475" fill="#000" filter="url(#tx)" xml:space="preserve"><tspan x="577.70" textLength="10.39" lengthAdjust="spacingAndGlyphs">29</tspan> <tspan x="591.28" textLength="13.32" lengthAdjust="spacingAndGlyphs">Jan</tspan> <tspan x="606.94" textLength="23.57" lengthAdjust="spacingAndGlyphs">17:00</tspan></text>
</svg></body></html>
